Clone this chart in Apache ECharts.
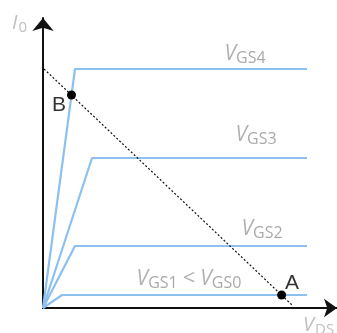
<!DOCTYPE html>
<html>
<head>
<meta charset="utf-8">
<script src="https://cdn.jsdelivr.net/npm/echarts@6/dist/echarts.min.js"></script>
<style>
  html, body { margin: 0; padding: 0; background: #fff; }
  #chart { width: 337px; height: 333px; }
</style>
</head>
<body>
<div id="chart"></div>
<script>
// Output characteristics of a transistor (I0 versus VDS) with a load line.
// Each curve: origin -> knee -> saturation plateau.
const vgs4 = [[0, 0], [32, 239], [264, 239]];
const vgs3 = [[0, 0], [49, 150], [264, 150]];
const vgs2 = [[0, 0], [32, 62], [264, 62]];
const vgs1 = [[0, 0], [19, 13], [264, 13]];

// Load line and its operating points
const loadLine = [[1, 239], [249, 3]];
const pointA = [238.6, 13];
const pointB = [28.5, 213];

// Curve captions: [x, y, subscript, tail]
const curveLabels = [
  [202, 254, 'GS4', ''],
  [213, 173, 'GS3', ''],
  [219, 79, 'GS2', ''],
  [146, 29, 'GS1', 'GS0']
];
const pointLabels = [[16, 203, 'B'], [249, 25, 'A']];

const blue = '#8cc0f0';

const chart = echarts.init(document.getElementById('chart'), null, { renderer: 'canvas' });

const lineSeries = (name, data) => ({
  name, type: 'line', data, symbol: 'none', silent: true,
  lineStyle: { color: blue, width: 2.2 }, z: 2
});

const rich = {
  v: { fontFamily: 'Open Sans', fontStyle: 'italic', fontSize: 21, color: '#9e9e9e', lineHeight: 24 },
  s: { fontFamily: 'Open Sans', fontSize: 16, color: '#939393', padding: [9, 0, 0, 0], lineHeight: 24 },
  t: { fontFamily: 'Open Sans', fontSize: 22, color: '#9e9e9e', lineHeight: 24, padding: [0, 5, 0, 5] }
};

const axisRich = {
  v: { fontFamily: 'Open Sans', fontStyle: 'italic', fontSize: 20, fill: '#c0c0c0', lineHeight: 24 },
  s: { fontFamily: 'Open Sans', fontSize: 15, fill: '#c0c0c0', padding: [9, 0, 0, 1], lineHeight: 24 }
};

chart.setOption({
  animation: false,
  grid: { left: 43, right: 0, top: 18, bottom: 25 },
  xAxis: {
    type: 'value', min: 0, max: 294,
    axisLine: { show: true, symbol: ['none', 'arrow'], symbolSize: [14, 13],
      lineStyle: { color: '#111', width: 2 } },
    axisTick: { show: false }, axisLabel: { show: false }, splitLine: { show: false }
  },
  yAxis: {
    type: 'value', min: 0, max: 290,
    axisLine: { show: true, symbol: ['none', 'arrow'], symbolSize: [16, 13],
      lineStyle: { color: '#111', width: 2 } },
    axisTick: { show: false }, axisLabel: { show: false }, splitLine: { show: false }
  },
  graphic: [
    { type: 'text', left: 12, top: 11, style: { text: '{v|I}{s|0}', rich: axisRich } },
    { type: 'text', left: 303, top: 313, style: { text: '{v|V}{s|DS}', rich: axisRich } }
  ],
  series: [
    lineSeries('VGS4', vgs4),
    lineSeries('VGS3', vgs3),
    lineSeries('VGS2', vgs2),
    lineSeries('VGS1', vgs1),
    {
      name: 'load', type: 'line', data: loadLine, symbol: 'none', silent: true, z: 3,
      lineStyle: { color: '#111', width: 1.2, type: [2, 2] }
    },
    {
      name: 'points', type: 'scatter', data: [pointA, pointB], symbol: 'circle', symbolSize: 9,
      itemStyle: { color: '#000', opacity: 1 }, z: 5, silent: true
    },
    {
      name: 'captions', type: 'scatter', symbolSize: 0, clip: false, silent: true, z: 6,
      data: curveLabels.map(d => ({ value: [d[0], d[1]], sub: d[2], tail: d[3] })),
      label: {
        show: true, position: 'inside',
        formatter: p => {
          const d = p.data;
          let s = '{v|V}{s|' + d.sub + '}';
          if (d.tail) s += '{t|<}{v|V}{s|' + d.tail + '}';
          return s;
        },
        rich
      }
    },
    {
      name: 'letters', type: 'scatter', symbolSize: 0, clip: false, silent: true, z: 6,
      data: pointLabels.map(d => ({ value: [d[0], d[1]], name: d[2] })),
      label: {
        show: true, position: 'inside', formatter: p => p.name,
        fontFamily: 'Liberation Sans', fontSize: 21, color: '#000'
      }
    }
  ]
});
</script>
</body>
</html>
